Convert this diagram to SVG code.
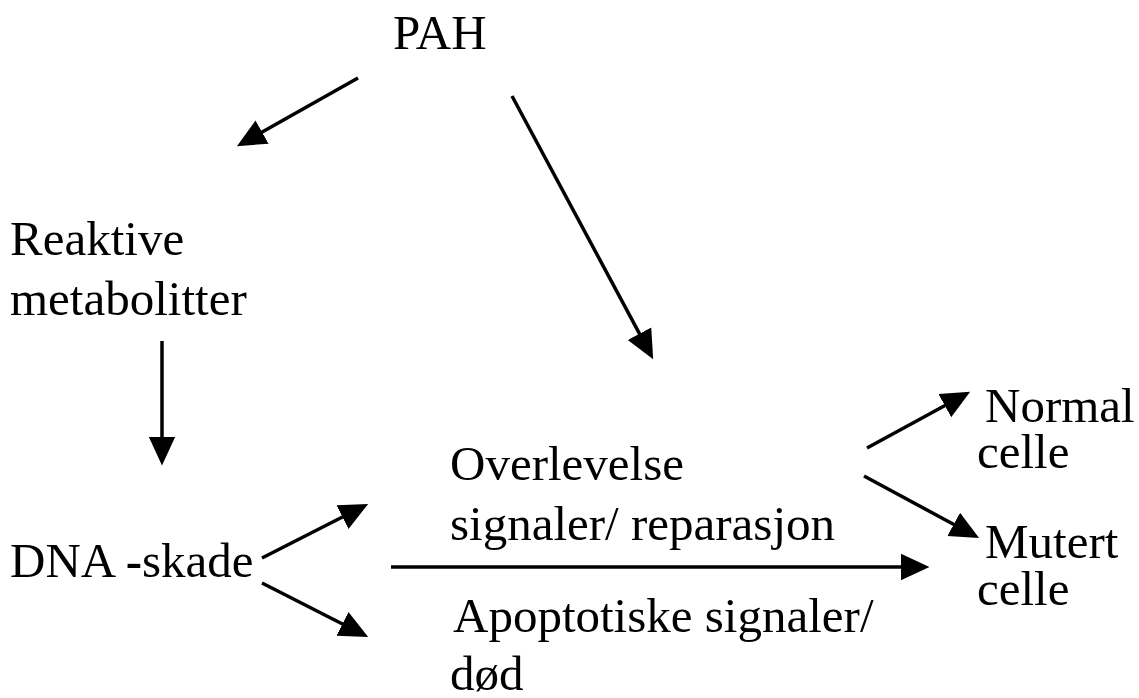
<svg xmlns="http://www.w3.org/2000/svg" width="1139" height="698" viewBox="0 0 1139 698">
<style>
text{font-family:"Liberation Serif","Times New Roman",serif;font-size:49px;fill:#000}
.c line{stroke:#000;stroke-width:3.5;fill:none;marker-end:url(#ah)}
</style>
<defs>
<marker id="ah" markerUnits="userSpaceOnUse" markerWidth="30" markerHeight="30" viewBox="0 -13 27 26" refX="4" refY="0" orient="auto">
<path d="M0,-12 L26,0 L0,12 z" fill="#000"/>
</marker>
</defs>
<rect width="1139" height="698" fill="#fff"/>
<g id="pah"><text x="393" y="49">PAH</text></g>
<g id="reaktive"><text x="10" y="255">Reaktive</text><text x="10" y="315">metabolitter</text></g>
<g id="dna"><text x="10" y="577">DNA <tspan font-weight="bold">-</tspan>skade</text></g>
<g id="overlevelse"><text x="450" y="480">Overlevelse</text><text x="450" y="540">signaler/ reparasjon</text></g>
<g id="apoptotiske"><text x="453" y="632">Apoptotiske signaler/</text><text x="450" y="690">død</text></g>
<g id="normal"><text x="985" y="422">Normal</text><text x="977" y="468">celle</text></g>
<g id="mutert"><text x="985" y="558">Mutert</text><text x="977" y="605">celle</text></g>
<g id="connectors" class="c">
<line x1="358" y1="78" x2="258.2" y2="134.2"/>
<line x1="512" y1="96" x2="641.6" y2="337.6"/>
<line x1="162" y1="341" x2="162" y2="441"/>
<line x1="262" y1="558" x2="346.4" y2="515"/>
<line x1="262" y1="583" x2="346.4" y2="626"/>
<line x1="391" y1="567" x2="905" y2="567"/>
<line x1="867" y1="448" x2="948.7" y2="403.5"/>
<line x1="864" y1="476" x2="957.6" y2="526.5"/>
</g>
</svg>
